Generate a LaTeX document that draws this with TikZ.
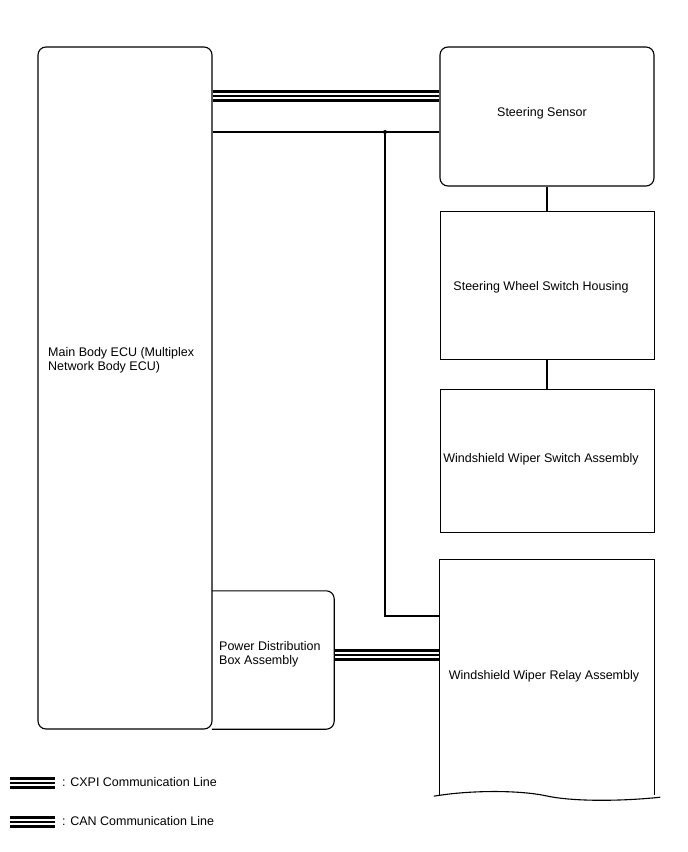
\documentclass[tikz,border=0pt]{standalone}
\usepackage{fontspec}
\setmainfont{Liberation Sans}
\usetikzlibrary{calc}

\tikzset{
  unit/.style={draw, line width=1.1pt, rounded corners=8pt, inner sep=0pt},
  plainunit/.style={draw, line width=0.8pt, inner sep=0pt},
  wire/.style={line width=1.1pt},
  commline/.style={line width=1.6pt,
    preaction={draw, line width=2.3pt, transform canvas={yshift=4.6pt}},
    postaction={draw, line width=2.3pt, transform canvas={yshift=-4.6pt}}},
}

\begin{document}
\begin{tikzpicture}[x=1pt, y=-1pt, font=\fontsize{12.5}{14}\selectfont]
  % page frame, y runs downwards like the reference
  \useasboundingbox (0,0) rectangle (688,852);

  % ECU on the left, power box sitting against its right side
  \node[unit, minimum width=174pt, minimum height=682pt] (ecu) at (125,388) {};
  \node[anchor=west, align=left, inner sep=0pt] (ecutext) at (48,360)
    {Main Body ECU (Multiplex\\Network Body ECU)};
  \node[inner sep=0pt, minimum width=122pt, minimum height=138pt] (pdb) at (273,660) {};
  \draw[wire, rounded corners=8pt] (pdb.north west) -- (pdb.north east)
    -- (pdb.south east) -- (pdb.south west);
  \node[anchor=west, align=left, inner sep=0pt] (pdbtext) at (219,654)
    {Power Distribution\\Box Assembly};

  % column on the right
  \node[unit, minimum width=214pt, minimum height=139pt] (sensor) at (547,116.5) {};
  \node[inner sep=0pt] (sensortext) at (542,113) {Steering Sensor};
  \node[plainunit, minimum width=214pt, minimum height=148pt] (housing) at (547,285) {};
  \node[inner sep=0pt] (housingtext) at (541,287) {Steering Wheel Switch Housing};
  \node[plainunit, minimum width=214pt, minimum height=143pt] (switch) at (547,460.5) {};
  \node[inner sep=0pt] (switchtext) at (541,459) {Windshield Wiper Switch Assembly};
  \node[inner sep=0pt, minimum width=214pt, minimum height=235pt] (relay) at (547,677.5) {};
  \node[inner sep=0pt] (relaytext) at (544,676) {Windshield Wiper Relay Assembly};
  \draw[wire] (relay.south west) -- (relay.north west) -- (relay.north east) -- (relay.south east);
  % torn-off bottom edge
  \draw[wire] ($(relay.south west)+(-6,1)$) .. controls (470,790) and (520,790) .. (547,796)
    .. controls (575,802) and (625,801) .. ($(relay.south east)+(6,2)$);

  % communication lines
  \coordinate (cxpi) at (0,96);
  \draw[commline] (ecu.east |- cxpi) -- (sensor.west |- cxpi);
  \coordinate (can) at (0,655);
  \draw[commline] (pdb.east |- can) -- (relay.west |- can);

  % single wires
  \coordinate (j) at (385,132);
  \coordinate (jr) at (385,616);
  \draw[wire] (ecu.east |- j) -- (sensor.west |- j);
  \draw[wire] (j) -- (jr) -- (relay.west |- jr);
  \fill (j) circle (2pt);
  \draw[wire] (sensor.south) -- (housing.north);
  \draw[wire] (housing.south) -- (switch.north);

  % legend
  \coordinate (leg1a) at (10,783);
  \coordinate (leg1b) at (55,783);
  \draw[commline] (leg1a) -- (leg1b);
  \node[anchor=west, inner sep=0pt] (leg1) at (62,782) {: CXPI Communication Line};
  \coordinate (leg2a) at (10,822);
  \coordinate (leg2b) at (55,822);
  \draw[commline] (leg2a) -- (leg2b);
  \node[anchor=west, inner sep=0pt] (leg2) at (62,821) {: CAN Communication Line};
\end{tikzpicture}
\end{document}
